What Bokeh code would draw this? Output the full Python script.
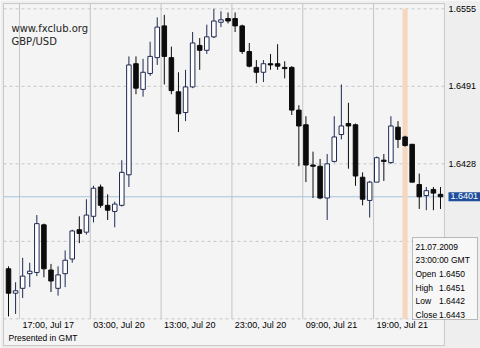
from bokeh.plotting import figure
from bokeh.models import Range1d, FixedTicker, Label, ColumnDataSource, BoxAnnotation
from bokeh.embed import file_html
from bokeh.resources import INLINE

# ---------------- data ----------------
opens = [1.6342, 1.6322, 1.6326, 1.6338, 1.6339, 1.6378, 1.6341, 1.6326, 1.6338, 1.6350,
         1.6374, 1.6372, 1.6385, 1.6409, 1.6394, 1.6389, 1.6394, 1.6419, 1.6510, 1.6489,
         1.6502, 1.6515, 1.6541, 1.6515, 1.6487, 1.6470, 1.6491, 1.6525, 1.6521, 1.6532,
         1.6544, 1.6547, 1.6547, 1.6541, 1.6520, 1.6507, 1.6503, 1.6510, 1.6510, 1.6507,
         1.6507, 1.6472, 1.6460, 1.6427, 1.6426, 1.6400, 1.6430, 1.6452, 1.6461, 1.6460,
         1.6417, 1.6398, 1.6413, 1.6431, 1.6429, 1.6458, 1.6450, 1.6444, 1.6411, 1.6402,
         1.6407, 1.6403]
highs = [1.6344, 1.6331, 1.6351, 1.6347, 1.6386, 1.6379, 1.6346, 1.6344, 1.6357, 1.6374,
         1.6385, 1.6399, 1.6410, 1.6411, 1.6403, 1.6397, 1.6431, 1.6516, 1.6516, 1.6514,
         1.6528, 1.6548, 1.6550, 1.6524, 1.6503, 1.6505, 1.6536, 1.6531, 1.6542, 1.6555,
         1.6553, 1.6552, 1.6552, 1.6542, 1.6527, 1.6513, 1.6513, 1.6518, 1.6526, 1.6512,
         1.6508, 1.6476, 1.6467, 1.6438, 1.6432, 1.6436, 1.6467, 1.6493, 1.6478, 1.6461,
         1.6421, 1.6414, 1.6434, 1.6436, 1.6467, 1.6463, 1.6451, 1.6444, 1.6420, 1.6409,
         1.6409, 1.6409]
lows = [1.6303, 1.6305, 1.6318, 1.6327, 1.6336, 1.6335, 1.6323, 1.6320, 1.6327, 1.6347,
        1.6363, 1.6370, 1.6380, 1.6392, 1.6382, 1.6376, 1.6393, 1.6409, 1.6485, 1.6483,
        1.6500, 1.6509, 1.6493, 1.6485, 1.6454, 1.6463, 1.6490, 1.6505, 1.6518, 1.6531,
        1.6540, 1.6543, 1.6536, 1.6518, 1.6507, 1.6494, 1.6495, 1.6505, 1.6505, 1.6498,
        1.6468, 1.6426, 1.6413, 1.6400, 1.6399, 1.6382, 1.6429, 1.6448, 1.6424, 1.6410,
        1.6394, 1.6384, 1.6413, 1.6414, 1.6428, 1.6441, 1.6442, 1.6413, 1.6391, 1.6390,
        1.6390, 1.6391]
closes = [1.6322, 1.6324, 1.6336, 1.6340, 1.6379, 1.6342, 1.6332, 1.6337, 1.6349, 1.6373,
          1.6371, 1.6386, 1.6408, 1.6394, 1.6390, 1.6395, 1.6421, 1.6509, 1.6490, 1.6503,
          1.6516, 1.6540, 1.6516, 1.6488, 1.6469, 1.6491, 1.6527, 1.6521, 1.6532, 1.6545,
          1.6546, 1.6545, 1.6541, 1.6520, 1.6508, 1.6503, 1.6510, 1.6509, 1.6508, 1.6506,
          1.6472, 1.6459, 1.6427, 1.6426, 1.6400, 1.6428, 1.6450, 1.6459, 1.6459, 1.6418,
          1.6399, 1.6413, 1.6433, 1.6430, 1.6459, 1.6448, 1.6443, 1.6413, 1.6401, 1.6406,
          1.6404, 1.6401]

time_label_bars = [2, 12, 22, 32, 42, 52]
time_labels = ["17:00, Jul 17", "03:00, Jul 20", "13:00, Jul 20",
               "23:00, Jul 20", "09:00, Jul 21", "19:00, Jul 21"]
price_ticks = [1.6301, 1.63645, 1.6428, 1.64915, 1.6555]
price_labels = ["", "", "1.6428", "1.6491", "1.6555"]   # lowest two are hidden in the original

site_name = "www.fxclub.org"
symbol = "GBP/USD"
footer = "Presented in GMT"
info_bar = 56
info_date = "21.07.2009"
info_time = "23:00:00 GMT"
info_names = ["Open", "High", "Low", "Close"]

# ---------------- layout constants ----------------
X_RANGE = (-1.13, 66.65)        # whole canvas in bar units
Y_RANGE = (1.62767, 1.65618)    # whole canvas in price units
BOX_L, BOX_R = -0.706, 61.56    # chart box (left edge / price-scale edge)
BOX_B, BOX_T = 1.62791, 1.65593
FONT = "Liberation Sans"
BULL_LINE = "#1e2a52"
BEAR_LINE = "#0c0c0c"
H = 348

n = len(opens)
idx = list(range(n))
bull = [c >= o for o, c in zip(opens, closes)]
src = ColumnDataSource(dict(
    x=idx,
    top=[max(o, c) for o, c in zip(opens, closes)],
    bottom=[min(o, c) for o, c in zip(opens, closes)],
    high=highs, low=lows,
    fill=["#ffffff" if b else "#0c0c0c" for b in bull],
    line=[BULL_LINE if b else BEAR_LINE for b in bull],
))

p = figure(width=480, height=H, title=None,
           x_range=Range1d(*X_RANGE), y_range=Range1d(*Y_RANGE),
           x_axis_location="below", y_axis_location="right",
           toolbar_location=None, output_backend="svg",
           min_border_left=0, min_border_right=0, min_border_top=0, min_border_bottom=0)
p.background_fill_color = "#eeeeee"
p.border_fill_color = "#eeeeee"
p.outline_line_color = None
p.grid.visible = False

# chart box
p.add_layout(BoxAnnotation(left=BOX_L, right=BOX_R, bottom=BOX_B, top=BOX_T,
                           fill_color="#f4f4f4", fill_alpha=1.0,
                           line_color="#6e6e6e", line_width=1, level="underlay"))

# horizontal dashed grid lines
p.segment(x0=[BOX_L] * len(price_ticks), x1=[BOX_R] * len(price_ticks),
          y0=price_ticks, y1=price_ticks, line_color="#c6c6c6", line_width=1,
          line_dash="3 3")

# vertical grid lines (solid), stop at the bottom grid line
grid_x = [b - 0.45 for b in time_label_bars]
p.segment(x0=grid_x, x1=grid_x, y0=[price_ticks[0]] * len(grid_x),
          y1=[BOX_T] * len(grid_x), line_color="#c4c4c4", line_width=1)

# current price line
p.segment(x0=[BOX_L], x1=[BOX_R], y0=[closes[-1]], y1=[closes[-1]],
          line_color="#a6c3dd", line_width=1)

# highlighted bar band
p.vbar(x=[info_bar], width=0.72, bottom=[price_ticks[0]], top=[price_ticks[-1]],
       fill_color="#f6d6bd", line_color=None)

# candles
p.segment(x0="x", x1="x", y0="low", y1="high", line_color="line", line_width=1, source=src)
p.vbar(x="x", width=0.64, top="top", bottom="bottom", fill_color="fill",
       line_color="line", line_width=1, source=src)

# x axis, drawn under the bottom grid line
xa = p.xaxis[0]
xa.fixed_location = price_ticks[0]
tick_pos = [b + 3.6 for b in time_label_bars]
xa.ticker = FixedTicker(ticks=tick_pos)
xa.major_label_overrides = {t: s for t, s in zip(tick_pos, time_labels)}
xa.axis_line_color = None
xa.major_tick_line_color = None
xa.minor_tick_line_color = None
xa.major_tick_out = 0
xa.major_tick_in = 0
xa.major_label_standoff = 1
xa.major_label_text_font = FONT
xa.major_label_text_font_size = "9px"
xa.major_label_text_color = "#000000"

# price scale on the right edge of the chart box
ya = p.yaxis[0]
ya.fixed_location = BOX_R
ya.ticker = FixedTicker(ticks=price_ticks)
ya.major_label_overrides = {t: s for t, s in zip(price_ticks, price_labels)}
ya.axis_line_color = None
ya.major_tick_line_color = None
ya.minor_tick_line_color = None
ya.major_tick_out = 0
ya.major_tick_in = 0
ya.major_label_standoff = 4
ya.major_label_text_font = FONT
ya.major_label_text_font_size = "9px"
ya.major_label_text_color = "#000000"

# header / footer texts
p.add_layout(Label(x=11, y=H - 27.5, x_units="screen", y_units="screen", text=site_name,
                   text_font="DejaVu Sans", text_font_size="10px", text_color="#222222",
                   text_baseline="alphabetic"))
p.add_layout(Label(x=11, y=H - 40.5, x_units="screen", y_units="screen", text=symbol,
                   text_font="DejaVu Sans", text_font_size="10px", text_color="#222222",
                   text_baseline="alphabetic"))
p.add_layout(Label(x=8, y=H - 337.5, x_units="screen", y_units="screen", text=footer,
                   text_font=FONT, text_font_size="8.5px", text_color="#000000",
                   text_baseline="middle"))

# current price tag
p.add_layout(Label(x=448, y=closes[-1], x_units="screen", y_units="data",
                   text=f"{closes[-1]:.4f}", text_font=FONT, text_font_size="9px",
                   text_color="#ffffff", text_baseline="middle",
                   background_fill_color="#1f4f9c",
                   padding=dict(left=2, right=6, top=1, bottom=2), level="overlay"))

# info box
p.add_layout(BoxAnnotation(left=412, right=477, top=H - 237, bottom=H - 319,
                           left_units="screen", right_units="screen",
                           top_units="screen", bottom_units="screen",
                           fill_color="#f7f7f7", fill_alpha=1.0,
                           line_color="#333333", line_width=1, level="overlay"))
row_y = [246.2, 259.8, 273.4, 287.0, 300.5, 314.0]
left_texts = [info_date, info_time] + info_names
for t, ry in zip(left_texts, row_y):
    p.add_layout(Label(x=415, y=H - ry, x_units="screen", y_units="screen", text=t,
                       text_font=FONT, text_font_size="8.5px", text_color="#000000",
                       text_baseline="middle", level="overlay"))
info_vals = [opens[info_bar], highs[info_bar], lows[info_bar], closes[info_bar]]
for v, ry in zip(info_vals, row_y[2:]):
    p.add_layout(Label(x=438.5, y=H - ry, x_units="screen", y_units="screen",
                       text=f"{v:.4f}", text_font=FONT, text_font_size="8.5px",
                       text_color="#000000", text_baseline="middle", level="overlay"))

open("out.html", "w").write(file_html(p, INLINE))
